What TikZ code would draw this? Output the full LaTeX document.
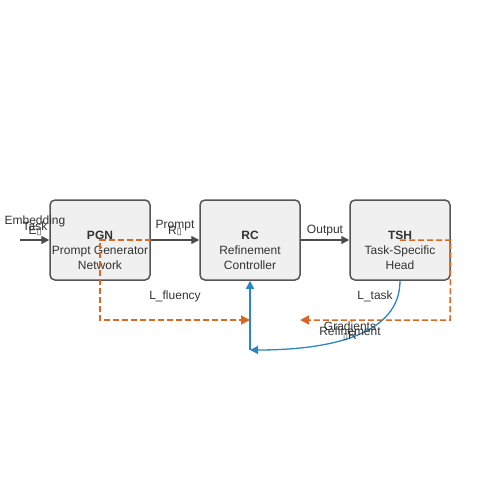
\documentclass[tikz,border=0pt]{standalone}
\usepackage{fontspec}
\setmainfont{Liberation Sans}
\newfontfamily\dvfont{DejaVu Sans}
\usetikzlibrary{arrows.meta}
\definecolor{boxfill}{HTML}{F0F0F0}
\definecolor{boxline}{HTML}{555555}
\definecolor{txt}{HTML}{333333}
\definecolor{orng}{HTML}{D86A26}
\definecolor{blu}{HTML}{2E86C1}
\newcommand{\tofu}{{\dvfont\fontsize{9pt}{9pt}\selectfont\char"25AF}}
\begin{document}
\begin{tikzpicture}[x=1pt,y=-1pt,
  font=\fontsize{12pt}{15pt}\selectfont,
  blk/.style={draw=boxline,fill=boxfill,line width=1.5pt,rounded corners=5pt,minimum width=100pt,minimum height=80pt,inner sep=0pt},
  btxt/.style={inner sep=0pt,align=center,text=txt},
  flow/.style={draw=boxline!90!black,line width=1.5pt,-{Triangle[length=8pt,width=8pt]}},
  fb/.style={draw=orng,line width=1.5pt,dash pattern=on 6pt off 3pt,-{Triangle[length=9pt,width=9pt,fill=orng!90!red]}},
  gb/.style={draw=blu,line width=1.3pt,-{Triangle[length=8pt,width=8pt]}},
  lab/.style={text=txt,inner sep=0pt,anchor=center}]
\useasboundingbox (0,0) rectangle (500,500);
\node[blk] (PGN) at (100,240) {};
\node[blk] (RC) at (250,240) {};
\node[blk] (TSH) at (400,240) {};
\node[btxt] (PGNt) at (100,250) {\textbf{PGN}\\Prompt Generator\\Network};
\node[btxt] (RCt) at (250,250) {\textbf{RC}\\Refinement\\Controller};
\node[btxt] (TSHt) at (400,250) {\textbf{TSH}\\Task-Specific\\Head};
\coordinate (in) at (20,240);
\coordinate (fl) at (250,320);
\coordinate (tk) at (300,320);
\coordinate (bl) at (250,350);
\draw[flow] (in) -- (PGN.west);
\draw[flow] (PGN.east) -- (RC.west);
\draw[flow] (RC.east) -- (TSH.west);
\node[lab] (l1) at (35,221) {Embedding};
\node[lab] (l2) at (35,226) {Task};
\node[lab] (l3) at (35,231) {E\tofu};
\node[lab] (l4) at (175,226) {Prompt};
\node[lab] (l5) at (175,231) {R\tofu};
\node[lab] (l6) at (325,231) {Output};
\draw[fb] (PGN.east) -- (PGN.center) -- (100,320) -- (fl);
\draw[fb] (TSH.center) -- (TSH.east) -- (450,320) -- (tk);
\draw[gb] (TSH.south) .. controls (400,335) and (330,350) .. (bl);
\draw[gb] (bl) -- (RC.south);
\node[lab] (l7) at (175,296) {L\_fluency};
\node[lab] (l8) at (375,296) {L\_task};
\node[lab] (l9) at (350,326) {Gradients};
\node[lab] (l10) at (350,331) {Refinement};
\node[lab] (l11) at (350,336) {\tofu R};
\end{tikzpicture}
\end{document}
